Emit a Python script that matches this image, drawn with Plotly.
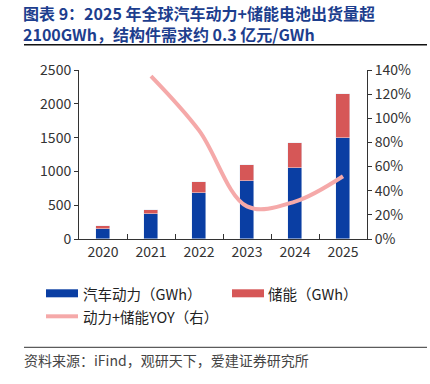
import plotly.graph_objects as go

years = ["2020", "2021", "2022", "2023", "2024", "2025"]
ev_power = [155, 365, 680, 865, 1050, 1500]
storage = [30, 70, 160, 225, 370, 650]
yoy = [None, 1.35, 0.90, 0.27, 0.31, 0.52]

W, H = 430, 384
L, R, T, B = 79, 367, 69.7, 238.7
def px(x): return (x - L) / (R - L)
def py(y): return (B - y) / (B - T)

FONT = "Noto Sans CJK SC"
BLUE = "#0A3EA3"
RED = "#D65757"
PINK = "#F5A9A9"
TITLE_C = "#1D3E8E"

fig = go.Figure()
fig.add_trace(go.Bar(x=years, y=ev_power, name="汽车动力（GWh）", marker_color=BLUE,
                     width=0.31, showlegend=False))
fig.add_trace(go.Bar(x=years, y=storage, name="储能（GWh）", marker_color=RED,
                     width=0.31, showlegend=False))
fig.add_trace(go.Scatter(x=years, y=yoy, name="动力+储能YOY（右）", yaxis="y2", mode="lines",
                         line=dict(color=PINK, width=4, shape="spline", smoothing=1.0),
                         showlegend=False))

axis_common = dict(showgrid=False, zeroline=False, linecolor="#333", linewidth=1,
                   tickfont=dict(family=FONT, size=14, color="#333"), tickcolor="#333")
fig.update_layout(
    width=W, height=H, barmode="stack", bargap=0,
    paper_bgcolor="white", plot_bgcolor="white",
    margin=dict(l=L, r=W - R, t=T, b=H - B, pad=0),
    font=dict(family=FONT),
    xaxis=dict(**axis_common, showline=True, ticks="inside", tickson="boundaries", ticklen=5,
               type="category"),
    yaxis=dict(**axis_common, showline=True, range=[0, 2500], dtick=500, ticks="outside",
               ticklen=4),
    yaxis2=dict(**axis_common, showline=True, overlaying="y", side="right", range=[0, 1.4],
                dtick=0.2, tickformat=".0%", ticks="outside", ticklen=4),
)

shapes = []
ann = []
# title
ann.append(dict(text="图表 9：2025 年全球汽车动力+储能电池出货量超", x=px(22), y=py(0),
                xref="paper", yref="paper", xanchor="left", yanchor="top", showarrow=False,
                borderpad=0, font=dict(family=FONT, size=16, color=TITLE_C, weight=700)))
ann.append(dict(text="2100GWh，结构件需求约 0.3 亿元/GWh", x=px(22), y=py(34),
                xref="paper", yref="paper", xanchor="left", yanchor="middle", showarrow=False,
                borderpad=0, font=dict(family=FONT, size=16, color=TITLE_C, weight=700)))
shapes.append(dict(type="line", xref="paper", yref="paper", x0=px(24), x1=px(427),
                   y0=py(44.5), y1=py(44.5), line=dict(color="#111", width=1.5)))
# legend
shapes.append(dict(type="rect", xref="paper", yref="paper", x0=px(46), x1=px(78),
                   y0=py(289), y1=py(297), fillcolor=BLUE, line=dict(width=0)))
ann.append(dict(text="汽车动力（GWh）", x=px(81), y=py(293), xref="paper", yref="paper",
                xanchor="left", yanchor="middle", showarrow=False,
                font=dict(family=FONT, size=14.5, color="#222")))
shapes.append(dict(type="rect", xref="paper", yref="paper", x0=px(232), x1=px(264),
                   y0=py(289), y1=py(297), fillcolor=RED, line=dict(width=0)))
ann.append(dict(text="储能（GWh）", x=px(266), y=py(293), xref="paper", yref="paper",
                xanchor="left", yanchor="middle", showarrow=False,
                font=dict(family=FONT, size=14.5, color="#222")))
shapes.append(dict(type="line", xref="paper", yref="paper", x0=px(46), x1=px(78),
                   y0=py(316), y1=py(316), line=dict(color=PINK, width=4)))
ann.append(dict(text="动力+储能YOY（右）", x=px(81), y=py(316), xref="paper", yref="paper",
                xanchor="left", yanchor="middle", showarrow=False,
                font=dict(family=FONT, size=14.5, color="#222")))
# footer
shapes.append(dict(type="line", xref="paper", yref="paper", x0=px(24), x1=px(427),
                   y0=py(347), y1=py(347), line=dict(color="#333", width=1)))
ann.append(dict(text="资料来源：iFind，观研天下，爱建证券研究所", x=px(22), y=py(360),
                xref="paper", yref="paper", xanchor="left", yanchor="middle", showarrow=False,
                font=dict(family=FONT, size=14, color="#444")))

fig.update_layout(shapes=shapes, annotations=ann)
fig.write_html("out.html", config={"displayModeBar": False},
               post_script="document.body.style.margin='0';document.body.style.overflow='hidden';")
